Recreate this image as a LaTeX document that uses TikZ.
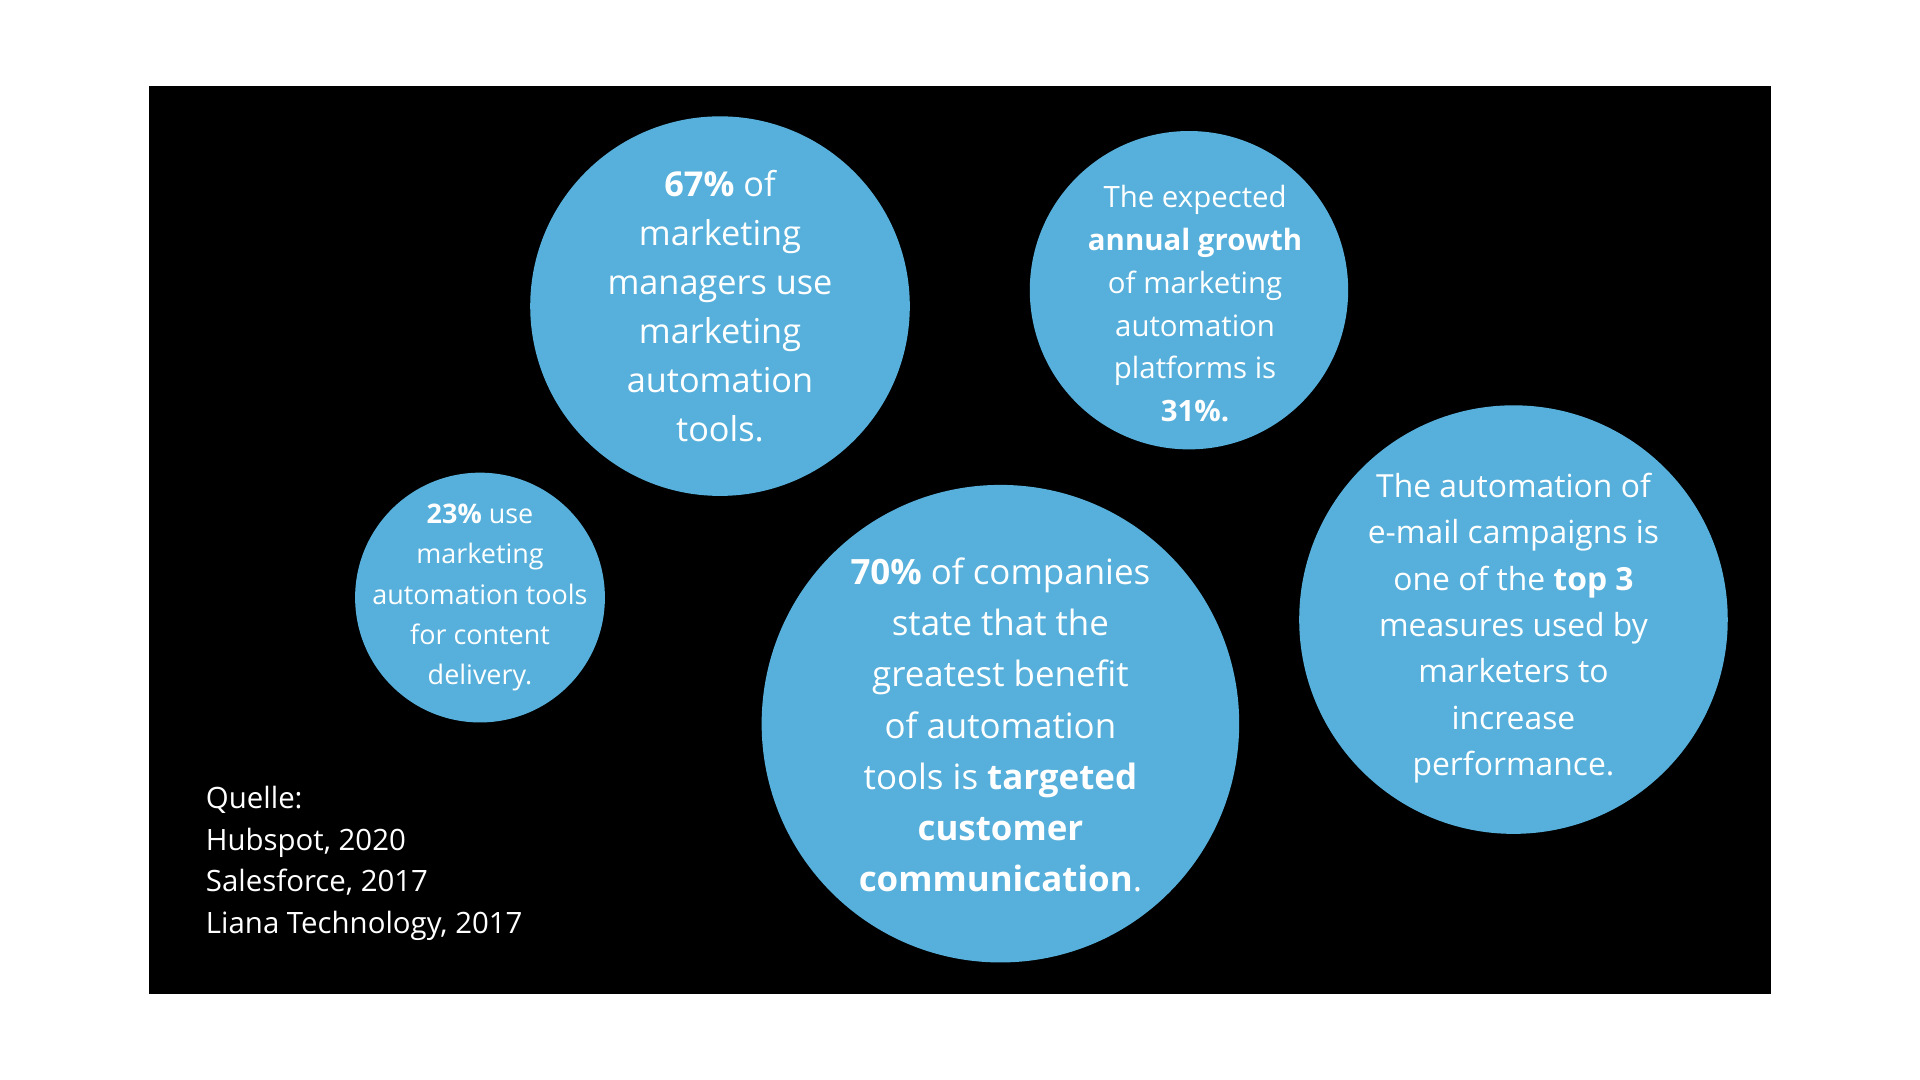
\documentclass[tikz,border=0pt]{standalone}
\usepackage{fontspec}
\setmainfont{Open Sans}
\definecolor{bub}{HTML}{56B0DB}
\begin{document}
\begin{tikzpicture}[x=1pt,y=-1pt,
  bubble/.style={circle,fill=bub,inner sep=0pt,text=white,align=center},
  lbl/.style={text=white,align=center,inner sep=0pt}]
\useasboundingbox (0,0) rectangle (1568,882);
\fill[white] (0,0) rectangle (1568,882);
\fill[black] (122,70) rectangle (1446,812);
\node[bubble,minimum size=310pt] (c1) at (588,250) {};
\node[lbl,font=\fontsize{28}{40}\selectfont] (t1) at (c1) {\textbf{67\%} of\\marketing\\managers use\\marketing\\automation\\tools.};
\node[bubble,minimum size=260pt] (c2) at (971,237) {};
\node[lbl,font=\fontsize{24}{35}\selectfont] (t2) at (976,248) {The expected\\\textbf{annual growth}\\of marketing\\automation\\platforms is\\\textbf{31\%.}};
\node[bubble,minimum size=204pt] (c3) at (392,488) {};
\node[lbl,font=\fontsize{22}{33}\selectfont] (t3) at (c3) {\textbf{23\%} use\\marketing\\automation tools\\for content\\delivery.};
\node[bubble,minimum size=390pt] (c4) at (817,591) {};
\node[lbl,font=\fontsize{28.5}{41.7}\selectfont] (t4) at (817,592) {\textbf{70\%} of companies\\state that the\\greatest benefit\\of automation\\tools is \textbf{targeted}\\\textbf{customer}\\\textbf{communication}.};
\node[bubble,minimum size=350pt] (c5) at (1236,506) {};
\node[lbl,font=\fontsize{26}{37.8}\selectfont] (t5) at (1236,513) {The automation of\\e-mail campaigns is\\one of the \textbf{top 3}\\measures used by\\marketers to\\increase\\performance.};
\node[lbl,align=left,anchor=north west,font=\fontsize{24}{34}\selectfont] (src) at (168,642) {Quelle:\\Hubspot, 2020\\Salesforce, 2017\\Liana Technology, 2017};
\end{tikzpicture}
\end{document}
